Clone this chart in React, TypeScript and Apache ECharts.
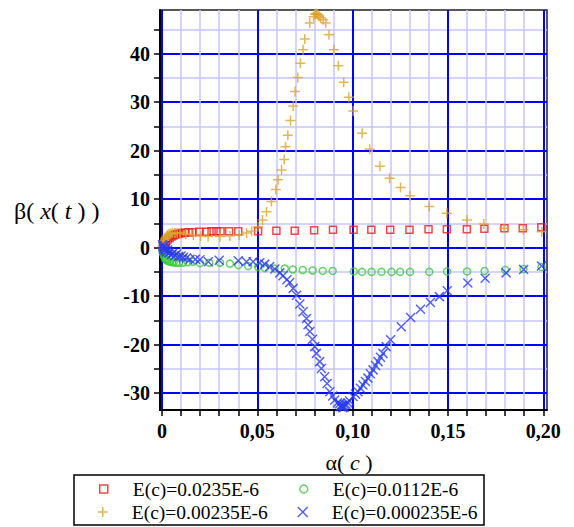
import React, { useEffect, useRef } from "react";
import * as echarts from "echarts";

// ---------- data ----------
const seriesNames = [
  "E(c)=0.0235E-6",
  "E(c)=0.0112E-6",
  "E(c)=0.00235E-6",
  "E(c)=0.000235E-6",
];

const redPoints = [
  [0.0005, 0.0], [0.001, 0.5], [0.0015, 1.0], [0.002, 1.3], [0.003, 1.7], [0.004, 2.0],
  [0.005, 2.3], [0.006, 2.5], [0.007, 2.7], [0.008, 2.8], [0.009, 2.9], [0.0105, 3.0],
  [0.012, 3.1], [0.014, 3.2], [0.016, 3.2], [0.0195, 3.3], [0.0234, 3.3], [0.026, 3.4],
  [0.0286, 3.4], [0.0307, 3.4], [0.0352, 3.4], [0.04, 3.4], [0.0504, 3.4], [0.06, 3.5],
  [0.0696, 3.5], [0.0798, 3.6], [0.0897, 3.7], [0.1005, 3.7], [0.1098, 3.7], [0.1197, 3.7],
  [0.1298, 3.7], [0.1398, 3.8], [0.1494, 3.8], [0.1599, 3.8], [0.1691, 3.9], [0.1796, 4.0],
  [0.1892, 4.0], [0.199, 4.2],
];

const greenPoints = [
  [0.0003, -0.8], [0.0007, -1.4], [0.0012, -1.9], [0.0017, -2.3], [0.0022, -2.5], [0.0028, -2.7],
  [0.0035, -2.8], [0.0043, -2.9], [0.0052, -3.0], [0.0062, -3.0], [0.0075, -3.1], [0.009, -3.1],
  [0.011, -3.1], [0.0135, -3.0], [0.0162, -2.9], [0.0199, -3.2], [0.0248, -3.1], [0.0304, -3.1],
  [0.0356, -3.3], [0.04, -3.6], [0.0452, -3.8], [0.0504, -4.0], [0.054, -4.2], [0.059, -4.3],
  [0.0644, -4.3], [0.0686, -4.5], [0.0738, -4.6], [0.079, -4.7], [0.0843, -4.8], [0.0895, -4.8],
  [0.1006, -4.9], [0.1049, -5.0], [0.1099, -5.0], [0.1151, -5.0], [0.1204, -5.0], [0.1249, -5.0],
  [0.1301, -5.0], [0.1402, -5.0], [0.1495, -4.9], [0.16, -4.9], [0.1692, -4.8], [0.18, -4.6],
  [0.1896, -4.4], [0.199, -4.0],
];

const orangePoints = [
  [0.0003, 0.3], [0.0008, 0.9], [0.0012, 1.4], [0.0016, 1.8], [0.002, 2.1], [0.0025, 2.4],
  [0.003, 2.6], [0.0037, 2.8], [0.0045, 2.9], [0.0055, 3.0], [0.0068, 3.0], [0.008, 3.0],
  [0.0095, 3.0], [0.0125, 2.8], [0.0164, 2.6], [0.0203, 2.4], [0.0242, 2.3], [0.0304, 2.3],
  [0.0356, 2.4], [0.0405, 2.6], [0.0443, 3.0], [0.047, 3.4], [0.0504, 4.3], [0.0527, 5.7],
  [0.0548, 7.4], [0.0574, 9.5], [0.0597, 12.0], [0.0609, 14.0], [0.0627, 16.0], [0.0641, 18.2],
  [0.0648, 20.8], [0.066, 23.2], [0.0674, 26.2], [0.0688, 29.2], [0.0698, 32.2], [0.0712, 35.1],
  [0.0726, 38.0], [0.074, 40.8], [0.0749, 43.0], [0.0775, 46.3], [0.0795, 47.6], [0.0802, 48.1],
  [0.0808, 48.3], [0.0813, 48.2], [0.0818, 48.0], [0.0824, 47.7], [0.0832, 47.4], [0.0845, 47.0],
  [0.0859, 46.3], [0.0876, 43.9], [0.0902, 40.8], [0.0925, 37.5], [0.0953, 34.1], [0.098, 31.0],
  [0.1003, 28.2], [0.105, 23.6], [0.109, 20.3], [0.1143, 16.8], [0.1194, 14.3], [0.1251, 12.4],
  [0.1301, 10.7], [0.1402, 8.5], [0.1494, 7.1], [0.16, 5.7], [0.1688, 4.9], [0.1794, 4.0],
  [0.1895, 3.7], [0.1992, 3.3],
];

const bluePoints = [
  [0.0002, 0.6], [0.0005, 0.2], [0.0008, -0.3], [0.0012, 0.4], [0.0016, -0.6], [0.002, -0.2],
  [0.0025, -0.9], [0.003, -0.5], [0.0036, -1.1], [0.0043, -0.8], [0.005, -1.4], [0.0058, -1.1],
  [0.0068, -1.6], [0.0077, -1.3], [0.0088, -1.8], [0.01, -1.7], [0.0112, -2.0], [0.0129, -2.1],
  [0.0147, -2.4], [0.0175, -2.4], [0.0199, -2.5], [0.0243, -2.9], [0.03, -2.6], [0.04, -2.7],
  [0.0443, -2.9], [0.0478, -2.9], [0.0513, -3.1], [0.0539, -3.4], [0.0565, -3.9], [0.0592, -4.4],
  [0.0618, -5.2], [0.0635, -5.8], [0.0655, -6.6], [0.067, -7.2], [0.0688, -8.4], [0.0706, -9.8],
  [0.0723, -11.6], [0.074, -13.2], [0.0758, -14.6], [0.0766, -15.9], [0.0775, -17.3], [0.0789, -18.9],
  [0.0801, -20.4], [0.081, -21.8], [0.0827, -23.5], [0.0836, -24.9], [0.0853, -26.6], [0.0866, -28.0],
  [0.088, -29.7], [0.0895, -30.6], [0.0906, -31.4], [0.092, -32.0], [0.0932, -32.2], [0.0935, -32.8],
  [0.094, -32.5], [0.0945, -32.6], [0.0948, -33.0], [0.095, -32.6], [0.0955, -32.9], [0.0958, -32.4],
  [0.0965, -32.3], [0.0975, -32.0], [0.0984, -31.6], [0.1002, -30.7], [0.1015, -30.2], [0.1028, -29.7],
  [0.1041, -29.0], [0.1054, -28.3], [0.1067, -27.6], [0.108, -26.9], [0.1093, -26.0], [0.1107, -25.2],
  [0.112, -24.3], [0.1133, -23.5], [0.1146, -22.6], [0.1159, -21.8], [0.1176, -20.4], [0.1199, -19.0],
  [0.1255, -16.3], [0.1304, -14.4], [0.1356, -12.7], [0.1408, -11.3], [0.1455, -10.1], [0.1496, -8.9],
  [0.1604, -7.3], [0.1695, -6.3], [0.1805, -5.2], [0.1897, -4.5], [0.1991, -3.8],
];

const xMajorTicks = [0, 0.05, 0.1, 0.15, 0.2];
const xMinorTicks = [
  0.01, 0.02, 0.03, 0.04, 0.06, 0.07, 0.08, 0.09, 0.11, 0.12, 0.13, 0.14,
  0.16, 0.17, 0.18, 0.19,
];
const yMajorTicks = [-30, -20, -10, 0, 10, 20, 30, 40];
const yMinorTicks = [-25, -15, -5, 5, 15, 25, 35, 45];

const X_MIN = -0.00105;
const X_MAX = 0.20194;
const Y_MIN = -33.47;
const Y_MAX = 49.0;

// ---------- styles ----------
const RED = "#f01818";
const GREEN = "#3cc83c";
const ORANGE = "#dca42a";
const BLUE = "#2a3cf0";
const MAJOR = "#0000ff";
const MINOR = "#c6c6ff";
const SERIF = "'Liberation Serif', 'Times New Roman', serif";

const SQUARE = "path://M0,0L10,0L10,10L0,10Z";
const PLUS = "path://M0,5L10,5M5,0L5,10";
const CROSS = "path://M0,0L10,10M10,0L0,10";

const hollow = (c: string, w = 1.5) => ({ color: "rgba(0,0,0,0)", borderColor: c, borderWidth: w });

export default function App() {
  const ref = useRef<HTMLDivElement>(null);
  useEffect(() => {
    if (!ref.current) return;
    const chart = echarts.init(ref.current, null, { renderer: "svg" });

    const xFmt = (v: number) => (Math.abs(v) < 1e-9 ? "0" : v.toFixed(2).replace(".", ","));
    const baseX = { type: "value", min: X_MIN, max: X_MAX, position: "bottom" };
    const baseY = { type: "value", min: Y_MIN, max: Y_MAX, position: "left" };

    const legendIcons = [SQUARE, "circle", PLUS, CROSS];
    const legendColors = [RED, GREEN, ORANGE, BLUE];
    const legendIconSize = [8, 8, 10, 10];
    const legendPos = [
      [99, 483],
      [299, 483],
      [98, 507],
      [298, 507],
    ];
    const legends = seriesNames.map((name, i) => ({
      left: legendPos[i][0] - legendIconSize[i] / 2 + 4,
      top: legendPos[i][1] - legendIconSize[i] / 2,
      itemWidth: legendIconSize[i],
      itemHeight: legendIconSize[i],
      itemGap: 0,
      padding: 0,
      selectedMode: false,
      formatter: (n: string) => "{g|}{t|" + n + "}",
      textStyle: {
        color: "#000",
        rich: {
          g: { width: 34 - 15 - legendIconSize[i] / 2 + 5 },
          t: { fontFamily: SERIF, fontSize: 19.5, color: "#000" },
        },
      },
      data: [{ name, icon: legendIcons[i], itemStyle: hollow(legendColors[i]) }],
    }));

    chart.setOption({
      animation: false,
      backgroundColor: "#fff",
      grid: {
        left: 160,
        top: 10,
        width: 387,
        height: 400,
        show: true,
        borderColor: "#222",
        borderWidth: 1.5,
        backgroundColor: "#fff",
      },
      xAxis: [
        {
          ...baseX,
          axisLine: { show: false, onZero: false },
          axisTick: { show: true, customValues: xMinorTicks, length: 6, lineStyle: { color: "#000", width: 1.5 } },
          axisLabel: { show: false },
          splitLine: { show: true, lineStyle: { color: MINOR, width: 1.5 } },
        },
        {
          ...baseX,
          axisLine: { show: true, onZero: false, lineStyle: { color: "#000", width: 2 } },
          axisTick: { show: true, customValues: xMajorTicks, length: 6, lineStyle: { color: "#000", width: 1.5 } },
          axisLabel: {
            customValues: xMajorTicks,
            formatter: xFmt,
            margin: 11,
            fontFamily: SERIF,
            fontWeight: "bold",
            fontSize: 20,
            color: "#000",
          },
          splitLine: { show: true, lineStyle: { color: MAJOR, width: 2 } },
        },
      ],
      yAxis: [
        {
          ...baseY,
          axisLine: { show: false, onZero: false },
          axisTick: { show: true, customValues: yMinorTicks, length: 6, lineStyle: { color: "#000", width: 1.5 } },
          axisLabel: { show: false },
          splitLine: { show: true, lineStyle: { color: MINOR, width: 1.5 } },
        },
        {
          ...baseY,
          axisLine: { show: true, onZero: false, lineStyle: { color: "#000", width: 2 } },
          axisTick: { show: true, customValues: yMajorTicks, length: 6, lineStyle: { color: "#000", width: 1.5 } },
          axisLabel: {
            customValues: yMajorTicks,
            formatter: (v: number) => String(v),
            margin: 10,
            fontFamily: SERIF,
            fontWeight: "bold",
            fontSize: 20,
            color: "#000",
          },
          splitLine: { show: true, lineStyle: { color: MAJOR, width: 2 } },
        },
      ],
      legend: legends,
      graphic: [
        {
          type: "rect",
          shape: { x: 74, y: 475, width: 410, height: 50 },
          style: { fill: "none", stroke: "#000", lineWidth: 1.5 },
          z: 100,
        },
        {
          type: "text",
          x: 349,
          y: 462,
          style: {
            text: "{a|α( }{i|c}{a| )}",
            align: "center",
            verticalAlign: "middle",
            fill: "#000",
            rich: {
              a: { fontFamily: SERIF, fontSize: 22, fill: "#000" },
              i: { fontFamily: SERIF, fontSize: 22, fontStyle: "italic", fill: "#000" },
            },
          },
        },
        {
          type: "text",
          x: 14,
          y: 211,
          style: {
            text: "{a|β( }{i|x}{a|( }{i|t}{a| ) )}",
            align: "left",
            verticalAlign: "middle",
            fill: "#000",
            rich: {
              a: { fontFamily: SERIF, fontSize: 24, fill: "#000" },
              i: { fontFamily: SERIF, fontSize: 24, fontStyle: "italic", fill: "#000" },
            },
          },
        },
      ],
      series: [
        {
          name: seriesNames[0],
          type: "scatter",
          xAxisIndex: 1,
          yAxisIndex: 1,
          data: redPoints,
          symbol: SQUARE,
          symbolSize: 7,
          symbolKeepAspect: true,
          itemStyle: hollow(RED),
          z: 3,
        },
        {
          name: seriesNames[1],
          type: "scatter",
          xAxisIndex: 1,
          yAxisIndex: 1,
          data: greenPoints,
          symbol: "circle",
          symbolSize: 7,
          itemStyle: hollow(GREEN),
          z: 3,
        },
        {
          name: seriesNames[2],
          type: "scatter",
          xAxisIndex: 1,
          yAxisIndex: 1,
          data: orangePoints,
          symbol: PLUS,
          symbolSize: 10,
          symbolKeepAspect: true,
          itemStyle: hollow(ORANGE),
          z: 4,
        },
        {
          name: seriesNames[3],
          type: "scatter",
          xAxisIndex: 1,
          yAxisIndex: 1,
          data: bluePoints,
          symbol: CROSS,
          symbolSize: 9,
          symbolKeepAspect: true,
          itemStyle: hollow(BLUE),
          z: 4,
        },
      ],
    });
    return () => chart.dispose();
  }, []);
  return (
    <div
      ref={ref}
      style={{ position: "absolute", left: 0, top: 0, width: 574, height: 527 }}
    />
  );
}
